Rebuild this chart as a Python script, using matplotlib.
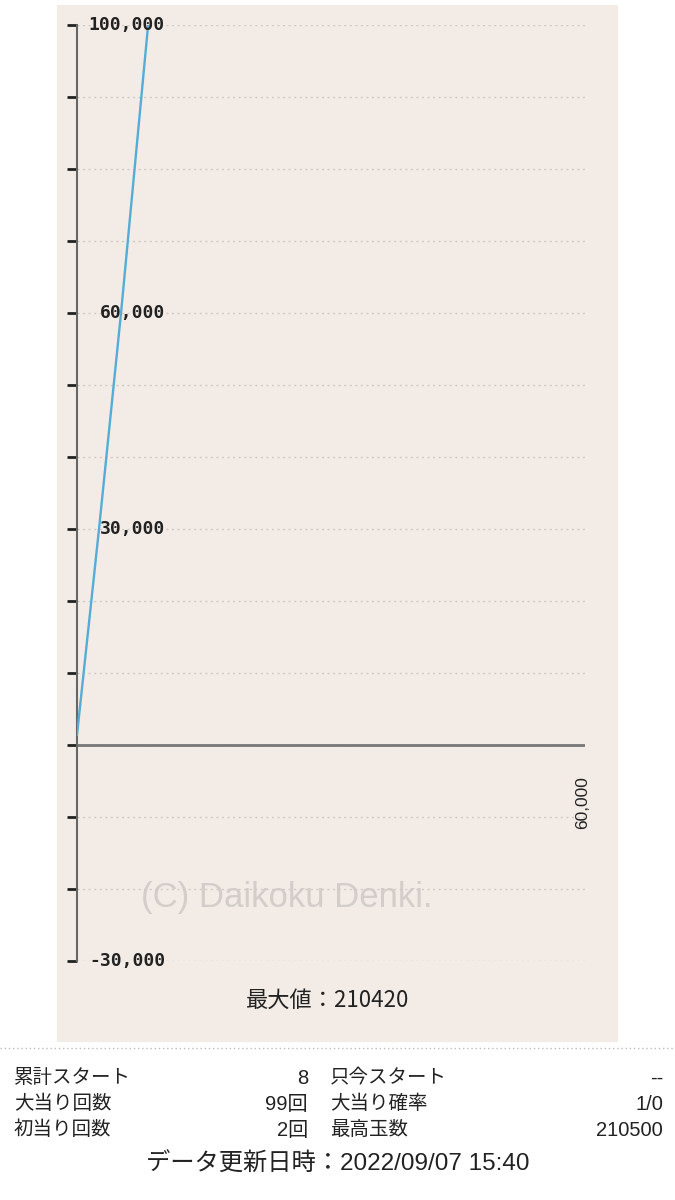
# スランプグラフ (slump graph) with a summary table below
import matplotlib
matplotlib.use("Agg")
import matplotlib.pyplot as plt
from matplotlib.patches import Rectangle
from matplotlib.transforms import blended_transform_factory

# data
games = [0, 2600, 5200, 8400]
balls = [1400, 30000, 60000, 100000]
y_ticks = list(range(-30000, 100001, 10000))
y_labels = {100000: "100,000", 60000: "60,000", 30000: "30,000", -30000: "-30,000"}
x_max = 60000
max_value = 210420

row_labels_left = ["累計スタート", "大当り回数", "初当り回数"]
row_values_left = ["8", "99回", "2回"]
row_labels_right = ["只今スタート", "大当り確率", "最高玉数"]
row_values_right = ["--", "1/0", "210500"]
updated = "データ更新日時：2022/09/07 15:40"

W, H = 675, 1200
fig = plt.figure(figsize=(W / 100, H / 100), dpi=100)
fig.patch.set_facecolor("white")

def fx(px):
    return px / W

def fy(py):
    return 1 - py / H

# beige panel behind the graph
fig.patches.append(Rectangle((fx(57), fy(1042)), fx(618) - fx(57), fy(5) - fy(1042),
                             transform=fig.transFigure, facecolor="#f3ece6",
                             edgecolor="none", zorder=-5))

ax = fig.add_axes([fx(77), fy(961), fx(585) - fx(77), fy(25) - fy(961)])
ax.set_zorder(1)
ax.set_facecolor("none")
ax.set_xlim(0, x_max)
ax.set_ylim(-30000, 100000)

for s in ["top", "right", "bottom"]:
    ax.spines[s].set_visible(False)
ax.spines["left"].set_color("#666666")
ax.spines["left"].set_linewidth(1.5)

ax.set_yticks(y_ticks)
ax.set_xticks([])
ax.tick_params(axis="y", length=7, width=2, color="#222222", labelleft=False)
ax.yaxis.grid(True, linestyle=(0, (1.5, 2.5)), color="#cfcac6", linewidth=1)
ax.set_axisbelow(True)

# zero line
ax.axhline(0, color="#777777", linewidth=2, zorder=2)

ax.plot(games, balls, color="#55acd6", linewidth=1.7, zorder=3)

# tick labels inside the plot, right aligned
tr = blended_transform_factory(ax.transAxes, ax.transData)
for v, s in y_labels.items():
    ax.text((165 - 77) / (585 - 77), v, s, transform=tr, ha="right", va="center",
            fontsize=13, family="DejaVu Sans Mono", fontweight="bold",
            color="#222222", zorder=4)

ax.text(x_max - 300, -8000, "60,000", rotation=90, ha="center", va="center",
        fontsize=12.5, color="#222222", family="Liberation Sans")

# watermark
fig.text(fx(287), fy(897), "(C) Daikoku Denki.", ha="center", va="center",
         fontsize=25, color="#d3ceca", family="Liberation Sans", zorder=-1)

fig.text(fx(328), fy(1000), f"最大値：{max_value}", ha="center", va="center",
         fontsize=16, color="#222222", family=["Noto Sans CJK JP", "DejaVu Sans"])

# dotted separator
fig.add_artist(plt.Line2D([0, 1], [fy(1048), fy(1048)], transform=fig.transFigure,
                          color="#bbbbbb", linewidth=1, linestyle=(0, (1, 2))))

fam = ["Liberation Sans", "Noto Sans CJK JP"]
for i in range(3):
    y = fy(1078 + i * 26)
    fig.text(fx(14), y, row_labels_left[i], ha="left", va="center", fontsize=14,
             family=fam, color="#222222")
    fig.text(fx(308), y, row_values_left[i], ha="right", va="center", fontsize=14.5,
             family=fam, color="#222222")
    fig.text(fx(330), y, row_labels_right[i], ha="left", va="center", fontsize=14,
             family=fam, color="#222222")
    fig.text(fx(663), y, row_values_right[i], ha="right", va="center", fontsize=14.5,
             family=fam, color="#222222")

fig.text(fx(338), fy(1164), updated, ha="center", va="center", fontsize=17.5,
         family=fam, color="#222222")

fig.savefig("out.png", dpi=100)
